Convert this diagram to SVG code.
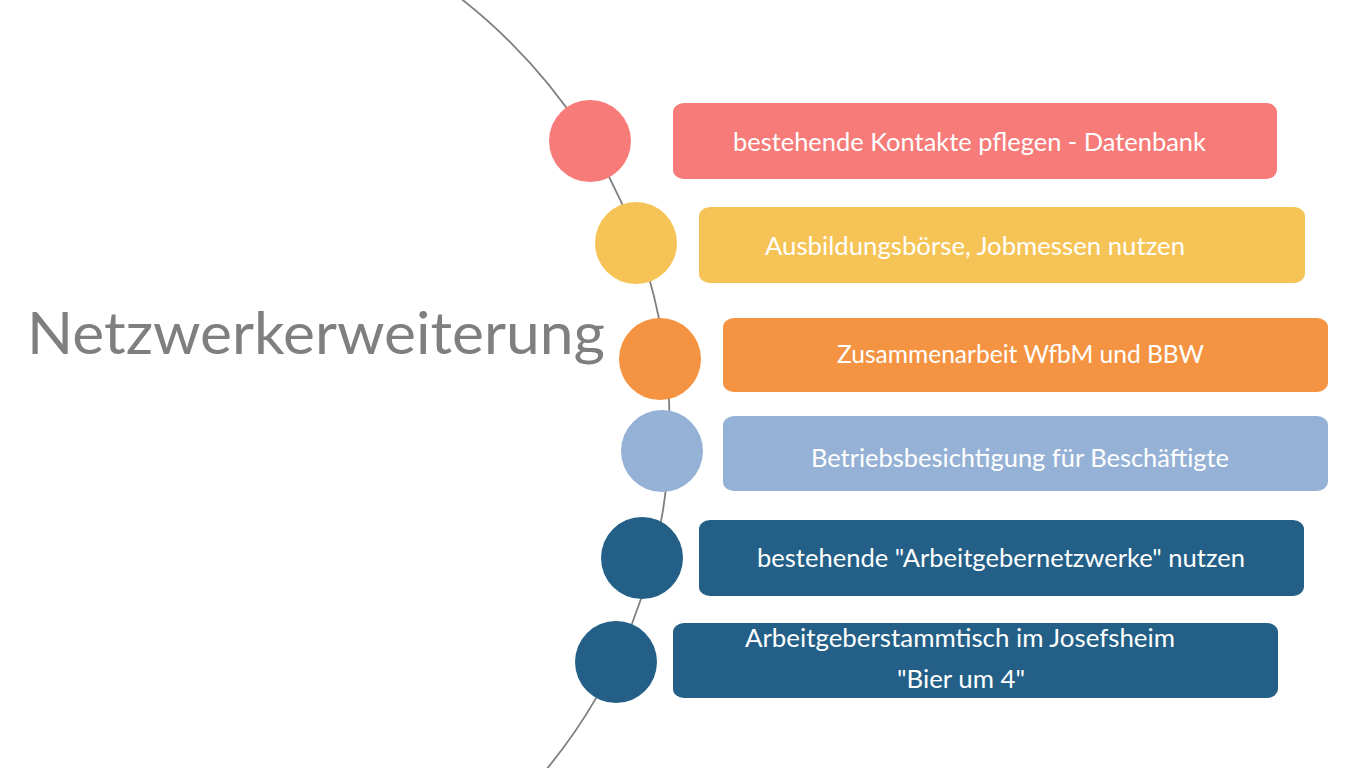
<svg xmlns="http://www.w3.org/2000/svg" width="1365" height="768" viewBox="0 0 1365 768">
<style>
.arc{fill:none;stroke:#7f7f7f;stroke-width:1.8}
.t{font-family:Lato,"Liberation Sans",sans-serif;font-size:24.5px;fill:#ffffff}
.title{font-family:Lato,"Liberation Sans",sans-serif;font-size:59px;fill:#7f7f7f}
.red{fill:#F77B79}.yel{fill:#F6C456}.ora{fill:#F49443}.lbl{fill:#95B2D6}.dbl{fill:#235F86}
</style>
<rect width="1365" height="768" fill="#ffffff"/>
<g id="connectors">
<circle class="arc" cx="128.6" cy="425.6" r="541"/>
</g>
<text id="title" class="title" x="27" y="354" textLength="578" lengthAdjust="spacingAndGlyphs">Netzwerkerweiterung</text>
<g id="node1">
<circle class="red" cx="590" cy="141" r="41"/>
<rect class="red" x="673" y="103" width="604" height="76" rx="11" ry="9"/>
<text class="t" x="733" y="151" textLength="473" lengthAdjust="spacingAndGlyphs">bestehende Kontakte pflegen - Datenbank</text>
</g>
<g id="node2">
<circle class="yel" cx="636" cy="243" r="41"/>
<rect class="yel" x="699" y="207" width="606" height="76" rx="11" ry="9"/>
<text class="t" x="765" y="255" textLength="420" lengthAdjust="spacingAndGlyphs">Ausbildungsbörse, Jobmessen nutzen</text>
</g>
<g id="node3">
<circle class="ora" cx="660" cy="359" r="41"/>
<rect class="ora" x="723" y="318" width="605" height="74" rx="11" ry="9"/>
<text class="t" x="837" y="363" textLength="367" lengthAdjust="spacingAndGlyphs">Zusammenarbeit WfbM und BBW</text>
</g>
<g id="node4">
<circle class="lbl" cx="662" cy="451" r="41"/>
<rect class="lbl" x="723" y="416" width="605" height="75" rx="11" ry="9"/>
<text class="t" x="811" y="467" textLength="418" lengthAdjust="spacingAndGlyphs">Betriebsbesichtigung für Beschäftigte</text>
</g>
<g id="node5">
<circle class="dbl" cx="642" cy="558" r="41"/>
<rect class="dbl" x="699" y="520" width="605" height="76" rx="11" ry="9"/>
<text class="t" x="757" y="567" textLength="488" lengthAdjust="spacingAndGlyphs">bestehende "Arbeitgebernetzwerke" nutzen</text>
</g>
<g id="node6">
<circle class="dbl" cx="616" cy="662" r="41"/>
<rect class="dbl" x="673" y="623" width="605" height="75" rx="11" ry="9"/>
<text class="t" x="745" y="647" textLength="430" lengthAdjust="spacingAndGlyphs">Arbeitgeberstammtisch im Josefsheim</text>
<text class="t" x="897" y="688" textLength="128" lengthAdjust="spacingAndGlyphs">"Bier um 4"</text>
</g>
</svg>
